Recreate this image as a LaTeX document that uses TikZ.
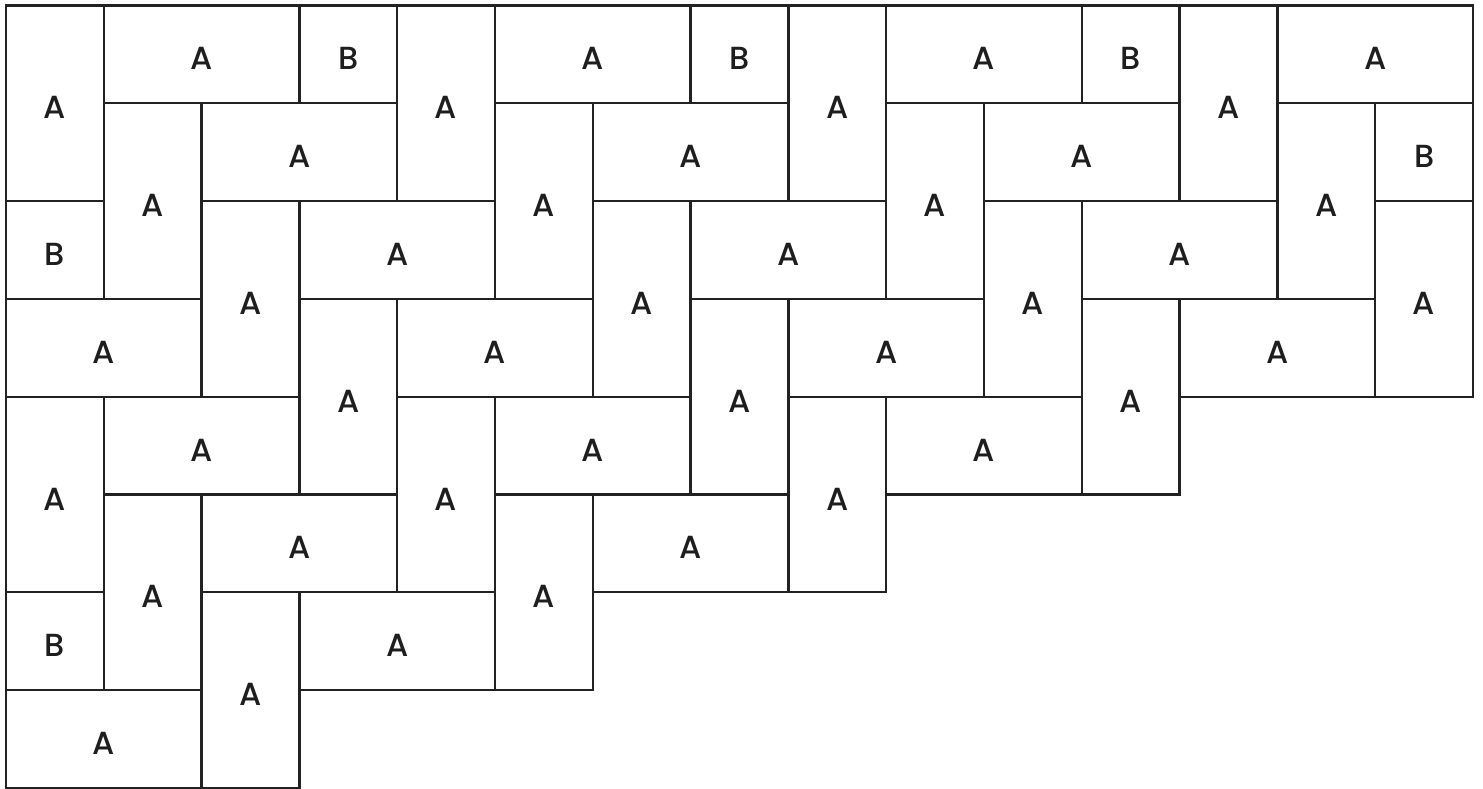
\documentclass[tikz,border=0pt]{standalone}
\usepackage{fontspec}
\setmainfont{Poppins Medium}
\definecolor{edge}{HTML}{222222}
\definecolor{ink}{HTML}{1E1E1E}
\begin{document}
\begin{tikzpicture}[
  tile/.style={draw=edge, line width=0.68pt, fill=white, inner sep=0pt, outer sep=0pt, anchor=center},
  lbl/.style={inner sep=0pt, text=ink, font=\fontsize{9.3}{11}\selectfont, anchor=center}
]
\useasboundingbox (-0.0613,0.0562) rectangle (15.102,-8.011);
\foreach \c/\r/\w/\h/\t in {
0/0/1/2/A, 1/0/2/1/A, 3/0/1/1/B, 4/0/1/2/A, 5/0/2/1/A, 7/0/1/1/B, 8/0/1/2/A, 9/0/2/1/A, 11/0/1/1/B, 12/0/1/2/A, 13/0/2/1/A,
1/1/1/2/A, 2/1/2/1/A, 5/1/1/2/A, 6/1/2/1/A, 9/1/1/2/A, 10/1/2/1/A, 13/1/1/2/A, 14/1/1/1/B,
0/2/1/1/B, 2/2/1/2/A, 3/2/2/1/A, 6/2/1/2/A, 7/2/2/1/A, 10/2/1/2/A, 11/2/2/1/A, 14/2/1/2/A,
0/3/2/1/A, 3/3/1/2/A, 4/3/2/1/A, 7/3/1/2/A, 8/3/2/1/A, 11/3/1/2/A, 12/3/2/1/A,
0/4/1/2/A, 1/4/2/1/A, 4/4/1/2/A, 5/4/2/1/A, 8/4/1/2/A, 9/4/2/1/A,
1/5/1/2/A, 2/5/2/1/A, 5/5/1/2/A, 6/5/2/1/A,
0/6/1/1/B, 2/6/1/2/A, 3/6/2/1/A,
0/7/2/1/A}
{
  \node[tile, minimum width=\w cm, minimum height=\h cm] (t\c-\r) at ({\c+\w/2},{-\r-\h/2}) {};
  \node[lbl] (l\c-\r) at ([yshift=-0.045cm]t\c-\r.center) {\t};
}
\end{tikzpicture}
\end{document}
